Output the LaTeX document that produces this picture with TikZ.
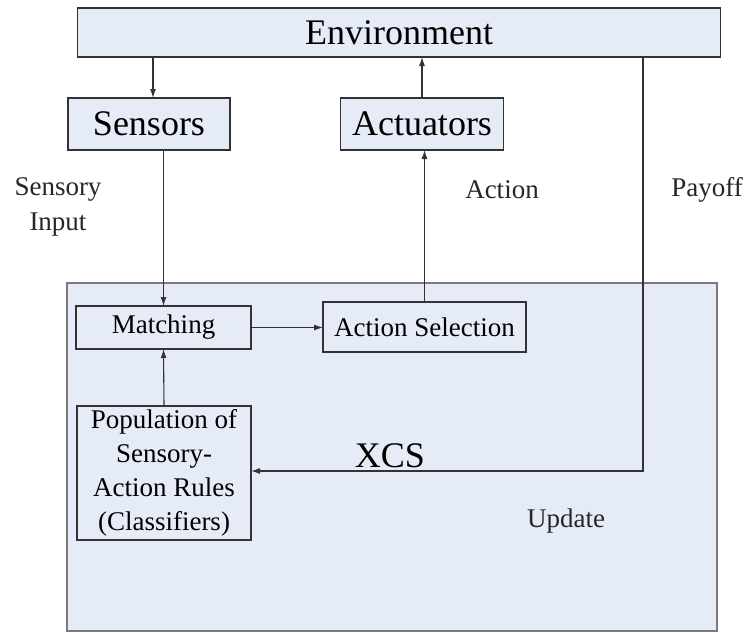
\documentclass[tikz,border=0pt]{standalone}
\usepackage{fontspec}
\setmainfont{LiberationSerif}[Extension=.ttf, UprightFont=*-Regular, BoldFont=*-Bold]
\usetikzlibrary{arrows.meta}
\definecolor{boxfill}{HTML}{E6ECF7}
\definecolor{edge}{HTML}{333333}
\definecolor{frame}{HTML}{7A7A7A}
\begin{document}
\begin{tikzpicture}[x=1pt,y=-1pt,
  blk/.style={draw=edge, fill=boxfill, line width=1.3pt, inner sep=0pt, outer sep=0pt, align=center},
  conn/.style={draw=edge, line width=1.1pt},
  tip/.style={-{Latex[length=9pt,width=6pt]}},
  bigtxt/.style={font=\fontsize{36}{40}\selectfont},
  midtxt/.style={font=\fontsize{27}{34}\selectfont},
  lbl/.style={align=center, inner sep=0pt, font=\fontsize{27}{35}\selectfont, text=black!85},
  ]
\useasboundingbox (0,0) rectangle (747,632);

% XCS frame
\node[blk, draw=frame, minimum width=650pt, minimum height=348pt] (xcs) at (392,457) {};
\node[bigtxt, inner sep=0pt] (xcslbl) at (390,456) {XCS};

% top level blocks
\node[blk, bigtxt, minimum width=643pt, minimum height=49pt] (env) at (399,32.5) {Environment};
\node[blk, bigtxt, minimum width=162pt, minimum height=52pt] (sens) at (149,124) {Sensors};
\node[blk, bigtxt, minimum width=163pt, minimum height=52pt] (act) at (422,124) {Actuators};

% inner blocks
\node[blk, midtxt, minimum width=175pt, minimum height=43pt] (match) at (163.5,327.5) {Matching};
\node[blk, midtxt, minimum width=203pt, minimum height=50pt] (asel) at (424.5,327) {Action Selection};
\node[blk, midtxt, minimum width=174pt, minimum height=134pt] (pop) at (164,473)
  {Population of\\Sensory-\\Action Rules\\(Classifiers)};

% free labels
\node[lbl] (sinput) at (58,207) {Sensory\\Input};
\node[lbl] (actlbl) at (502,190) {Action};
\node[lbl] (paylbl) at (707,190) {Payoff};
\node[lbl] (updlbl) at (566,521) {Update};

% connectors
\coordinate (pay) at (643,471);
\draw[conn,tip] ([xshift=4pt]sens.north |- env.south) -- ([xshift=4pt]sens.north);
\draw[conn,tip] (sens.south -| match.north) -- (match.north);
\draw[conn,tip] (pop.north) -- (match.south);
\draw[conn,tip] (match.east) -- (match.east -| asel.west);
\draw[conn,tip] (asel.north) -- (asel.north |- act.south);
\draw[conn,tip] (act.north) -- (act.north |- env.south);
\draw[conn,tip] (env.south -| pay) -- (pay) -- (pay -| pop.east);
\end{tikzpicture}
\end{document}
